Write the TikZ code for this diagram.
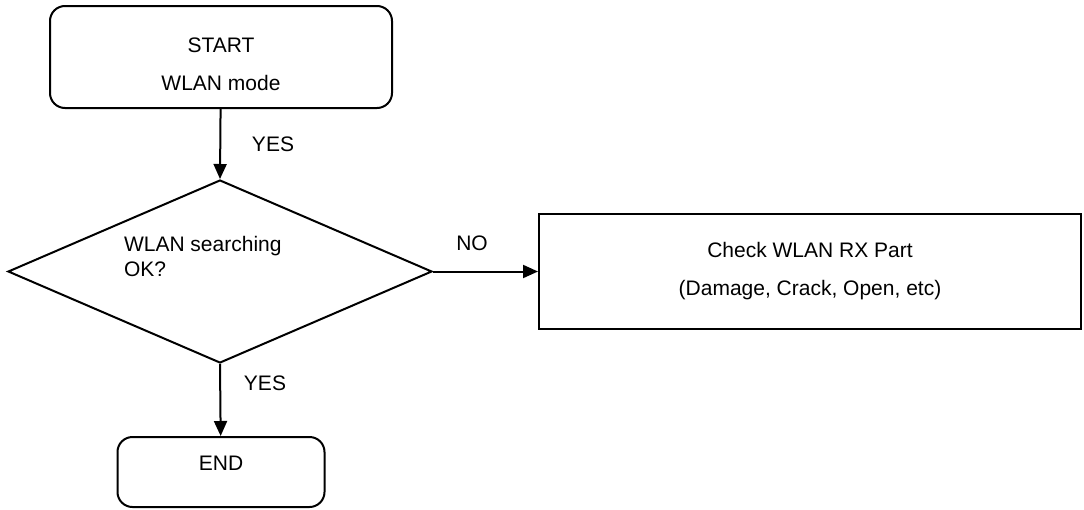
\documentclass[tikz,border=0pt]{standalone}
\usepackage{fontspec}
\setmainfont{Liberation Sans}
\usetikzlibrary{shapes.geometric,arrows.meta}
\begin{document}
\begin{tikzpicture}[x=1pt,y=-1pt,line width=2pt,
  font=\fontsize{21}{25}\selectfont,
  box/.style={draw,inner sep=0pt,align=center},
  rbox/.style={box,rounded corners=15pt},
  flow/.style={-{Triangle[length=15pt,width=13pt]}}]
\useasboundingbox (0,0) rectangle (1084,509);

\coordinate (S) at (221,57);
\coordinate (D) at (220,271.5);
\coordinate (C) at (810,271.5);
\coordinate (E) at (221,472);

\node[rbox,minimum width=342pt,minimum height=102pt] (start) at (S) {\rule{0pt}{29pt}START\\[13pt]WLAN mode};
\node[draw,shape=diamond,inner sep=0pt,minimum width=424pt,minimum height=183pt] (dec) at (D) {};
\node[align=left,anchor=west,inner sep=0pt] (dectxt) at (123,256) {WLAN searching\\OK?};
\node[box,minimum width=542pt,minimum height=115pt] (check) at (C) {Check WLAN RX Part\\[13pt](Damage, Crack, Open, etc)};
\node[rbox,minimum width=207pt,minimum height=70pt,text depth=18pt] (end) at (E) {END};

\draw[flow] (start) -- (dec.north);
\draw[flow] (dec.east) -- (check);
\draw[flow] (dec.south) -- (end);

\node (yes1) at (273,144) {YES};
\node (no) at (472,243) {NO};
\node (yes2) at (265,383) {YES};
\end{tikzpicture}
\end{document}
